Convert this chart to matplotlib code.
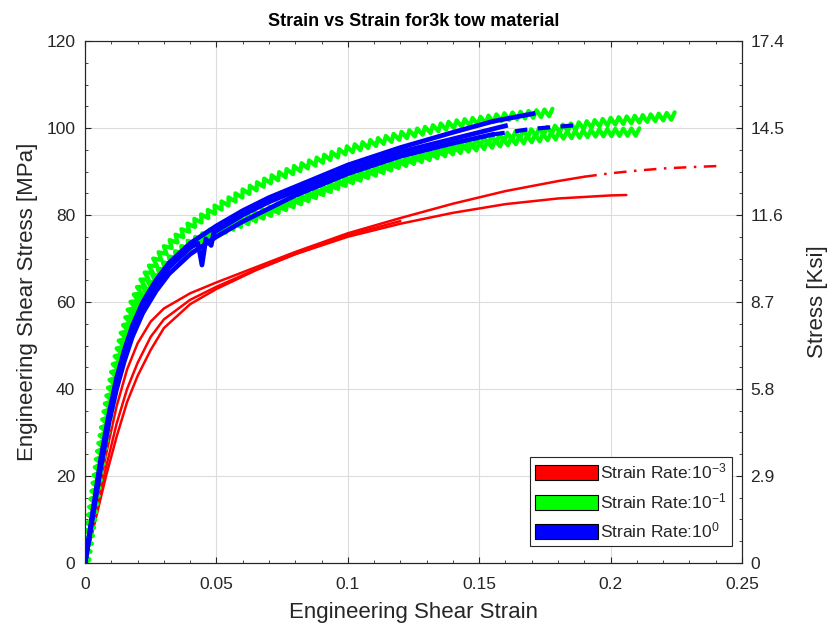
import numpy as np
import matplotlib
matplotlib.use("Agg")
import matplotlib.pyplot as plt
import matplotlib.patches as mpatches
from matplotlib.path import Path
from matplotlib.patheffects import AbstractPathEffect
from matplotlib.transforms import IdentityTransform
from matplotlib.ticker import MultipleLocator, FixedLocator, FixedFormatter

plt.rcParams["font.family"] = ["Liberation Sans", "DejaVu Sans"]
plt.rcParams["mathtext.fontset"] = "custom"
plt.rcParams["mathtext.rm"] = "Liberation Sans"
plt.rcParams["mathtext.it"] = "Liberation Sans:italic"
plt.rcParams["mathtext.bf"] = "Liberation Sans:bold"

# ---------------- data (engineering shear strain, shear stress in MPa) ----------------
# strain rate 1e-3 (three specimens)
red1_strain = [0, 0.004, 0.008, 0.012, 0.016, 0.02, 0.025, 0.03, 0.04, 0.05, 0.065, 0.08,
               0.1, 0.12, 0.14, 0.16, 0.18, 0.19]
red1_stress = [0, 12.5, 25, 36, 44.5, 50.5, 55.5, 58.5, 62, 64.5, 68, 71.5,
               75.8, 79.3, 82.6, 85.5, 87.8, 88.8]
red1_tail_strain = [0.19, 0.2, 0.21, 0.22, 0.23, 0.2425]
red1_tail_stress = [88.8, 89.6, 90.2, 90.7, 91.0, 91.3]

red2_strain = [0, 0.004, 0.008, 0.012, 0.016, 0.02, 0.025, 0.03, 0.04, 0.05, 0.065, 0.08,
               0.1, 0.12, 0.14, 0.16, 0.18, 0.2, 0.206]
red2_stress = [0, 11, 22, 32, 40, 46, 52, 56, 60.5, 63.5, 67.5, 71,
               75, 78, 80.5, 82.5, 83.8, 84.5, 84.6]

red3_strain = [0, 0.004, 0.008, 0.012, 0.016, 0.02, 0.025, 0.03, 0.04, 0.05, 0.065, 0.08,
               0.1, 0.12]
red3_stress = [0, 10, 20, 29, 37, 43, 49, 54, 59.5, 63, 67.3, 71,
               75.4, 78.6]

# strain rate 1e-1 (three specimens)
green1_strain = [0, 0.003, 0.006, 0.009, 0.012, 0.015, 0.018, 0.022, 0.027, 0.032, 0.04,
                 0.05, 0.06, 0.07, 0.08, 0.1, 0.12, 0.14, 0.16, 0.178]
green1_stress = [0, 13, 26, 37, 46, 53, 59, 64.5, 69.5, 73, 77.5,
                 81.5, 85, 88, 90.5, 95, 98.2, 100.8, 102.6, 103.6]

green2_strain = [0, 0.003, 0.006, 0.009, 0.012, 0.015, 0.018, 0.022, 0.027, 0.032, 0.04,
                 0.05, 0.06, 0.07, 0.08, 0.1, 0.12, 0.14, 0.16, 0.18, 0.2, 0.2245]
green2_stress = [0, 12.5, 25, 35.5, 44, 50.5, 56, 61, 66, 69.5, 73.5,
                 76.5, 78.8, 81, 83.3, 88.2, 92.3, 95.5, 98, 99.8, 101.5, 102.8]

green3_strain = [0, 0.003, 0.006, 0.009, 0.012, 0.015, 0.018, 0.022, 0.027, 0.032, 0.04,
                 0.05, 0.06, 0.07, 0.08, 0.1, 0.12, 0.14, 0.16, 0.18, 0.195, 0.211]
green3_stress = [0, 12, 24.5, 35, 43.5, 50, 55.5, 60.5, 65.5, 69, 73,
                 76, 78.3, 80.5, 82.8, 87.8, 91.8, 94.8, 96.8, 98.3, 98.9, 99.1]

# strain rate 1e0 (three specimens)
blue1_strain = [0, 0.003, 0.006, 0.009, 0.012, 0.015, 0.018, 0.022, 0.027, 0.032, 0.04,
                0.05, 0.06, 0.07, 0.08, 0.1, 0.12, 0.14, 0.155, 0.1705]
blue1_stress = [0, 12, 24, 34, 42.5, 49, 54.5, 60, 65, 69, 73.5,
                77.5, 81, 84, 86.5, 91.5, 95.5, 99, 101.5, 103.3]

blue2_strain = [0, 0.003, 0.006, 0.009, 0.012, 0.015, 0.018, 0.022, 0.027, 0.032, 0.04,
                0.05, 0.06, 0.07, 0.08, 0.1, 0.12, 0.14, 0.155]
blue2_stress = [0, 11, 22, 32, 40, 46.5, 52, 57.5, 62.5, 66.5, 71,
                75, 78.5, 81.5, 84.5, 89.5, 93.5, 96.5, 98.5]
blue2_tail_strain = [0.155, 0.17, 0.186]
blue2_tail_stress = [98.5, 99.8, 100.6]

blue3_strain = [0, 0.003, 0.006, 0.009, 0.012, 0.015, 0.018, 0.022, 0.027, 0.032, 0.04,
                0.043, 0.0445, 0.046, 0.048, 0.049, 0.06, 0.07, 0.08, 0.1, 0.12, 0.14, 0.16]
blue3_stress = [0, 11.5, 23, 33, 41, 48, 53, 59, 64, 68, 72.5,
                73.5, 68.5, 74.5, 73, 76, 80, 83, 85.5, 90.5, 94.5, 97.5, 100.5]

legend_labels = ["Strain Rate:10$^{-3}$", "Strain Rate:10$^{-1}$", "Strain Rate:10$^{0}$"]
left_ticks = [0, 20, 40, 60, 80, 100, 120]
right_tick_labels = ["0", "2.9", "5.8", "8.7", "11.6", "14.5", "17.4"]
x_ticks = [0, 0.05, 0.1, 0.15, 0.2, 0.25]
x_tick_labels = ["0", "0.05", "0.1", "0.15", "0.2", "0.25"]


class SawtoothStroke(AbstractPathEffect):
    """Strokes a line as a sawtooth running along it (display units)."""

    def __init__(self, pitch=8.0, amp=3.6):
        super().__init__()
        self.pitch = pitch
        self.amp = amp

    def draw_path(self, renderer, gc, tpath, affine, rgbFace=None):
        v = affine.transform(tpath.vertices)
        d = np.hypot(*np.diff(v, axis=0).T)
        s = np.concatenate([[0], np.cumsum(d)])
        n = max(int(s[-1] / (self.pitch / 2)), 2)
        si = np.linspace(0, s[-1], n + 1)
        x = np.interp(si, s, v[:, 0])
        y = np.interp(si, s, v[:, 1])
        tx, ty = np.gradient(x), np.gradient(y)
        norm = np.hypot(tx, ty) + 1e-9
        nx, ny = -ty / norm, tx / norm
        sign = np.where(np.arange(len(si)) % 2 == 0, 1.0, -1.0)
        sign[0] = 0
        pts = np.column_stack([x + self.amp * sign * nx, y + self.amp * sign * ny])
        gc0 = renderer.new_gc()
        gc0.copy_properties(gc)
        gc0.set_joinstyle("round")
        gc0.set_capstyle("round")
        renderer.draw_path(gc0, Path(pts), IdentityTransform(), rgbFace)
        gc0.restore()


INK = "#262626"
fig = plt.figure(figsize=(8.32, 6.33), dpi=100)
ax = fig.add_axes([0.1022, 0.1106, 0.7896, 0.8246])

red, green, blue = "#ff0000", "#00ff00", "#0000ff"

for xs, ys in [(red1_strain, red1_stress), (red2_strain, red2_stress), (red3_strain, red3_stress)]:
    ax.plot(xs, ys, color=red, lw=1.8, solid_capstyle="round")
ax.plot(red1_tail_strain, red1_tail_stress, color=red, lw=1.8, linestyle=(0, (5, 3, 1, 3)))

for xs, ys in [(green1_strain, green1_stress), (green2_strain, green2_stress),
               (green3_strain, green3_stress)]:
    ax.plot(xs, ys, color=green, lw=3.0, path_effects=[SawtoothStroke()])

for xs, ys in [(blue1_strain, blue1_stress), (blue2_strain, blue2_stress),
               (blue3_strain, blue3_stress)]:
    ax.plot(xs, ys, color=blue, lw=3.4, solid_joinstyle="round")
ax.plot(blue2_tail_strain, blue2_tail_stress, color=blue, lw=3.0, linestyle=(0, (3, 2.5)))

ax.set_xlim(0, 0.25)
ax.set_ylim(0, 120)
ax.xaxis.set_major_locator(FixedLocator(x_ticks))
ax.xaxis.set_major_formatter(FixedFormatter(x_tick_labels))
ax.xaxis.set_minor_locator(MultipleLocator(0.01))
ax.yaxis.set_major_locator(FixedLocator(left_ticks))
ax.yaxis.set_minor_locator(MultipleLocator(5))
ax.grid(True, which="major", color="#dcdcdc", lw=0.8)
ax.set_axisbelow(True)
ax.tick_params(which="both", direction="in", top=True, right=False, colors=INK,
               labelsize=12.5)
ax.tick_params(axis="x", which="major", pad=10)
ax.tick_params(axis="y", which="major", pad=7)
ax.tick_params(which="major", length=4.5, width=0.8)
ax.tick_params(which="minor", length=2.5, width=0.6)
for sp in ax.spines.values():
    sp.set_color(INK)
    sp.set_linewidth(0.8)

ax.set_xlabel("Engineering Shear Strain", fontsize=16, color=INK, labelpad=7)
ax.set_ylabel("Engineering Shear Stress [MPa]", fontsize=16, color=INK, labelpad=6)
ax.set_title("Strain vs Strain for3k tow material", fontsize=13, fontweight="bold",
             color="black", pad=11)

ax2 = ax.twinx()
ax2.set_ylim(0, 17.4)
ax2.yaxis.set_major_locator(FixedLocator([float(t) for t in right_tick_labels]))
ax2.yaxis.set_major_formatter(FixedFormatter(right_tick_labels))
ax2.yaxis.set_minor_locator(MultipleLocator(0.725))
ax2.tick_params(which="both", direction="in", colors=INK, labelsize=12.5)
ax2.tick_params(which="major", length=4.5, width=0.8, pad=6)
ax2.tick_params(which="minor", length=2.5, width=0.6)
for sp in ax2.spines.values():
    sp.set_color(INK)
    sp.set_linewidth(0.8)
ax2.set_ylabel("Stress [Ksi]", fontsize=16, color=INK, labelpad=16)

handles = [mpatches.Patch(facecolor=c, edgecolor="black", lw=0.8) for c in (red, green, blue)]
leg = ax.legend(handles, legend_labels, loc="lower right", bbox_to_anchor=(0.985, 0.033),
                borderaxespad=0, fontsize=12.5, handlelength=3.6, handleheight=0.95,
                handletextpad=0.15, labelspacing=0.55, borderpad=0.3,
                fancybox=False, framealpha=1, edgecolor=INK)
leg.get_frame().set_linewidth(0.8)
for t in leg.get_texts():
    t.set_color(INK)

fig.savefig("out.png", dpi=100)
